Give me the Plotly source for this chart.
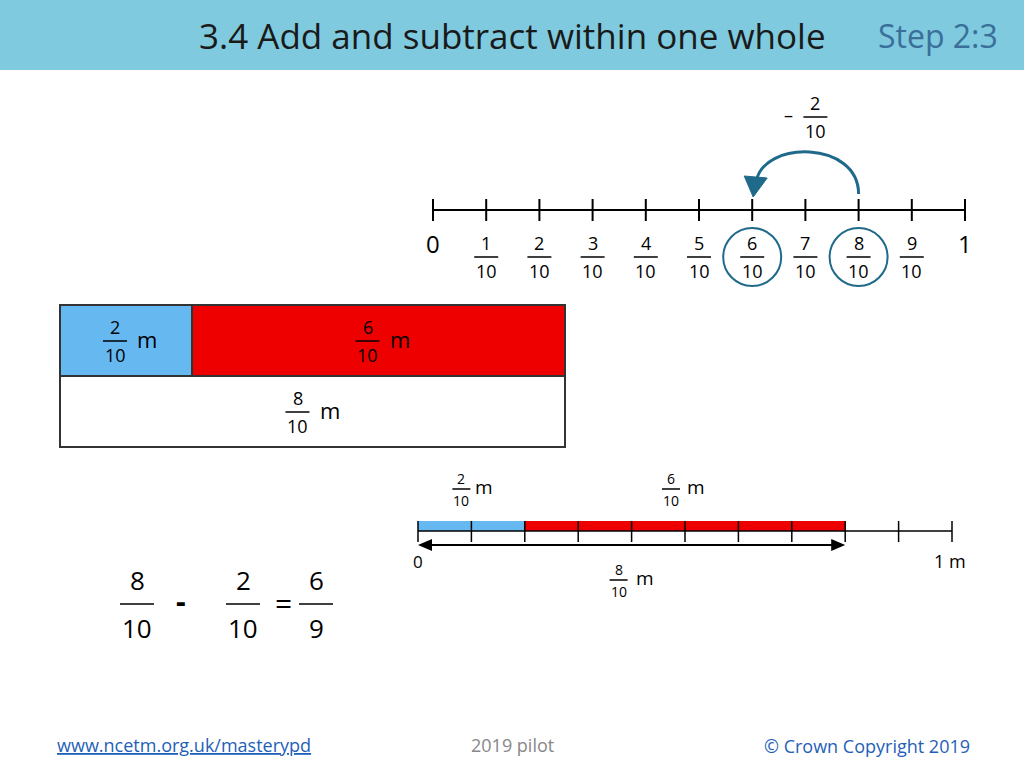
import plotly.graph_objects as go

# ---- data ----
title = "3.4 Add and subtract within one whole"
step = "Step 2:3"
tenths = list(range(11))            # top number line ticks 0..10
circled = [6, 8]                    # circled fractions
jump = (8, 6)                       # arc from 8/10 to 6/10
bar_parts = [("2", "10", "#66b8f0"), ("6", "10", "#ee0000")]
bar_whole = ("8", "10")
bottom_filled = [(0, 2, "#66b8f0"), (2, 8, "#ee0000")]
equation = [("8", "10"), "-", ("2", "10"), "=", ("6", "9")]
eq_x = [137, 181, 243, 283, 316]

FONT = "Open Sans"
TEAL = "#1f6a8a"

fig = go.Figure()
shapes = []
ann = []


def text(x, y, s, size=20, color="black", xanchor="center", **kw):
    ann.append(dict(x=x, y=y, text=s, showarrow=False, xanchor=xanchor,
                    yanchor="middle", font=dict(family=FONT, size=size, color=color), **kw))


def frac(x, y, num, den, size=18, gap=14, w=24):
    text(x, y - gap, num, size)
    text(x, y + gap, den, size)
    shapes.append(dict(type="line", x0=x - w / 2, x1=x + w / 2, y0=y, y1=y,
                       line=dict(color="black", width=1.5)))


def line(x0, y0, x1, y1, width=2, color="black"):
    shapes.append(dict(type="line", x0=x0, y0=y0, x1=x1, y1=y1,
                       line=dict(color=color, width=width)))


# header
shapes.append(dict(type="rect", x0=-20, x1=1050, y0=-20, y1=70, fillcolor="#7fcade",
                   line=dict(width=0), layer="below"))
text(512, 35, title, 35, "#1a1a1a")
text(938, 35, step, 32, "#3a6f9a")

# top number line
L0, L1, LY = 433, 965, 210
def tx(i):
    return L0 + (L1 - L0) * i / 10
line(L0, LY, L1, LY)
for i in tenths:
    line(tx(i), LY - 11, tx(i), LY + 11)
    if i in (0, 10):
        text(tx(i), 243, str(i // 10), 24)
    else:
        frac(tx(i), 257, str(i), "10", 18, 14, 24)
for i in circled:
    shapes.append(dict(type="circle", x0=tx(i) - 29, x1=tx(i) + 29, y0=228, y1=286,
                       line=dict(color=TEAL, width=2)))
a, b = tx(jump[0]), tx(jump[1])
m = (a + b) / 2
shapes.append(dict(type="path", path=f"M {a} 194 C {a} 140, {b + 10} 140, {b + 4} 182",
                   line=dict(color=TEAL, width=3)))
shapes.append(dict(type="path", path=f"M {b - 8} 176 L {b + 15} 178 L {b + 1} 197 Z",
                   fillcolor=TEAL, line=dict(color=TEAL, width=1)))
text(m - 17, 115, "\u2013", 18)
frac(m + 10, 117, "2", "10", 18, 14, 24)

# bar model
BX0, BX1, SPLIT = 60, 565, 192
xs = [BX0, SPLIT, BX1]
for k, (n, d, c) in enumerate(bar_parts):
    shapes.append(dict(type="rect", x0=xs[k], x1=xs[k + 1], y0=305, y1=376,
                       fillcolor=c, line=dict(color="#333", width=2)))
    cx = (xs[k] + xs[k + 1]) / 2
    frac(cx - 11, 341, n, d, 18, 14, 24)
    text(cx + 21, 339, "m", 22)
shapes.append(dict(type="rect", x0=BX0, x1=BX1, y0=376, y1=447,
                   line=dict(color="#333", width=2)))
frac((BX0 + BX1) / 2 - 15, 412, bar_whole[0], bar_whole[1], 18, 14, 24)
text((BX0 + BX1) / 2 + 17, 410, "m", 22)

# bottom number line
N0, N1, NY = 418, 952, 531
def nx(i):
    return N0 + (N1 - N0) * i / 10
for s, e, c in bottom_filled:
    shapes.append(dict(type="rect", x0=nx(s), x1=nx(e), y0=521, y1=NY,
                       fillcolor=c, line=dict(width=0)))
line(N0, NY, N1, NY, 1.5)
for i in tenths:
    line(nx(i), 521, nx(i), 542, 1.5)
text(N0, 561, "0", 17)
text(nx(10) - 20, 561, "1 m", 18, xanchor="left")
line(N0 + 6, 545, nx(8) - 6, 545, 2)
shapes.append(dict(type="path", path=f"M {N0} 545 L {N0 + 14} 539 L {N0 + 14} 551 Z",
                   fillcolor="black", line=dict(width=0)))
shapes.append(dict(type="path", path=f"M {nx(8)} 545 L {nx(8) - 14} 539 L {nx(8) - 14} 551 Z",
                   fillcolor="black", line=dict(width=0)))
frac(nx(1) - 10, 489, "2", "10", 14, 11, 18)
text(nx(1) + 13, 487, "m", 19)
frac(nx(5) - 14, 489, "6", "10", 14, 11, 18)
text(nx(5) + 11, 487, "m", 19)
frac(nx(4) - 13, 580, "8", "10", 14, 11, 18)
text(nx(4) + 13, 578, "m", 19)

# equation
for item, ex in zip(equation, eq_x):
    if isinstance(item, tuple):
        frac(ex, 604, item[0], item[1], 26, 24, 34)
    elif item == "-":
        text(ex, 600, "<b>-</b>", 30)
    else:
        text(ex, 602, item, 30)

# footer
text(55, 745, "<u>www.ncetm.org.uk/masterypd</u>", 18, "#1f5fb8", xanchor="left")
text(512, 745, "2019 pilot", 18, "#888888")
text(972, 746, "\u00a9 Crown Copyright 2019", 18, "#1f5fb8", xanchor="right")

fig.update_layout(
    width=1024, height=768, margin=dict(l=0, r=0, t=0, b=0),
    plot_bgcolor="white", paper_bgcolor="white", showlegend=False,
    xaxis=dict(range=[0, 1024], visible=False, fixedrange=True),
    yaxis=dict(range=[768, 0], visible=False, fixedrange=True),
    shapes=shapes, annotations=ann,
)
fig.write_html("out.html", config={"displayModeBar": False},
               post_script="document.body.style.margin='0';")
